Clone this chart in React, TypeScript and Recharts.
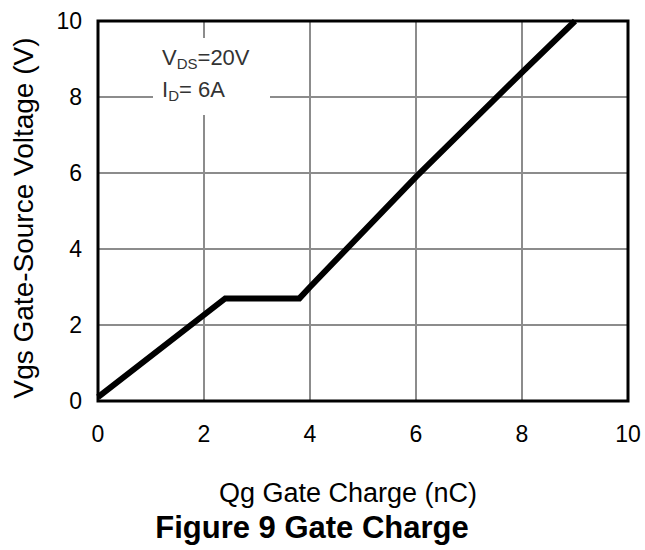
import React from 'react';
import { LineChart, Line, XAxis, YAxis, CartesianGrid, ReferenceArea, Customized } from 'recharts';

const gateCharge = [0, 2.4, 3.8, 4.0, 6.0, 8.0, 9.0];
const vgs = [0.1, 2.7, 2.7, 3.0, 5.9, 8.65, 10.0];
const xTicks = [0, 2, 4, 6, 8, 10];
const yTicks = [0, 2, 4, 6, 8, 10];

const data = gateCharge.map((q, i) => ({ q, v: vgs[i] }));

const FONT = 'Arial, "Liberation Sans", sans-serif';

const Labels = () => (
  <g fontFamily={FONT}>
    <rect x={153} y={38} width={117} height={77} fill="#fff" />
    <text x={162} y={65} fontSize={22} fill="#333">
      V<tspan fontSize={15} dy={4}>DS</tspan>
      <tspan dy={-4}>=20V</tspan>
    </text>
    <text x={162} y={97} fontSize={22} fill="#333">
      I<tspan fontSize={15} dy={4}>D</tspan>
      <tspan dy={-4}>= 6A</tspan>
    </text>
    <text
      x={0}
      y={0}
      transform="translate(33,218) rotate(-90)"
      textAnchor="middle"
      fontSize={28}
      fill="#000"
    >
      Vgs Gate-Source Voltage (V)
    </text>
    <text x={348} y={502} textAnchor="middle" fontSize={27} fill="#000">
      Qg Gate Charge (nC)
    </text>
    <text x={312} y={538} textAnchor="middle" fontSize={31} fontWeight="bold" fill="#000">
      Figure 9 Gate Charge
    </text>
  </g>
);

export default function App() {
  return (
    <div style={{ position: 'absolute', left: 0, top: 0, background: '#fff' }}>
      <LineChart
        width={645}
        height={550}
        data={data}
        margin={{ top: 21, right: 17, left: 0, bottom: 89 }}
      >
        <CartesianGrid stroke="#8c8c8c" strokeWidth={2} />
        <XAxis
          dataKey="q"
          type="number"
          domain={[0, 10]}
          ticks={xTicks}
          height={60}
          axisLine={false}
          tickLine={false}
          tickSize={6}
          tickMargin={19}
          tick={{ fontSize: 23, fill: '#000', fontFamily: FONT }}
        />
        <YAxis
          type="number"
          domain={[0, 10]}
          ticks={yTicks}
          width={98}
          axisLine={false}
          tickLine={false}
          tickSize={6}
          tickMargin={10}
          tick={{ fontSize: 23, fill: '#000', fontFamily: FONT }}
        />
        <Customized component={Labels} />
        <ReferenceArea x1={0} x2={10} y1={0} y2={10} fill="none" stroke="#000" strokeWidth={3} />
        <Line
          dataKey="v"
          stroke="#000"
          strokeWidth={6}
          dot={false}
          isAnimationActive={false}
          strokeLinejoin="miter"
        />
      </LineChart>
    </div>
  );
}
